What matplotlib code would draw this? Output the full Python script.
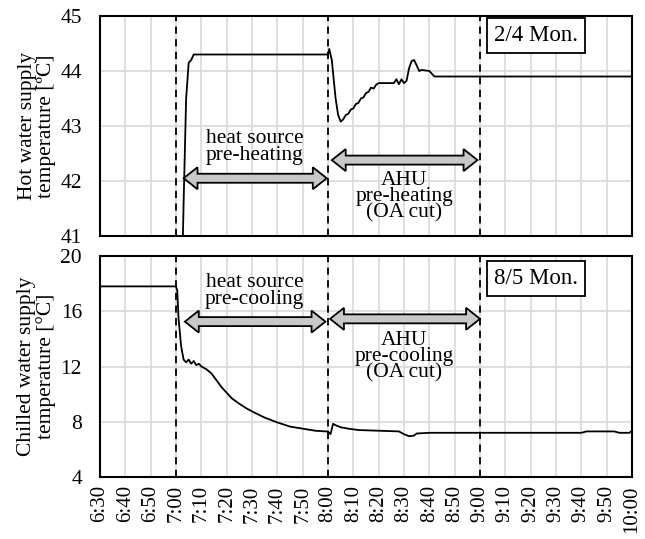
import numpy as np
import matplotlib
matplotlib.use('Agg')
import matplotlib.pyplot as plt
from matplotlib.patches import Polygon

plt.rcParams['font.family'] = ['Liberation Serif', 'DejaVu Serif']

# hot water supply temperature, 2/4 Mon.
hot_t = ['7:02.5', '7:03', '7:04', '7:05', '7:06', '7:07', '7:59', '8:00', '8:00.5', '8:01.5',
         '8:03', '8:04', '8:05', '8:06', '8:07', '8:08', '8:09', '8:10', '8:11', '8:12',
         '8:13', '8:14', '8:15', '8:16', '8:17', '8:18', '8:19', '8:20', '8:26', '8:27',
         '8:28', '8:29', '8:30', '8:31', '8:32', '8:33', '8:34', '8:35', '8:36', '8:37',
         '8:40', '8:41', '8:42', '10:00']
hot_v = [40.5, 41.6, 43.5, 44.15, 44.2, 44.3, 44.3, 44.3, 44.4, 44.2,
         43.5, 43.2, 43.08, 43.12, 43.2, 43.22, 43.3, 43.32, 43.4, 43.42,
         43.5, 43.52, 43.6, 43.62, 43.7, 43.68, 43.75, 43.78, 43.78, 43.85,
         43.76, 43.85, 43.78, 43.82, 44.05, 44.18, 44.2, 44.1, 44.0, 44.02,
         44.0, 43.95, 43.9, 43.9]

# chilled water supply temperature, 8/5 Mon.
cold_t = ['6:30', '7:00', '7:00.5', '7:01', '7:02', '7:03', '7:04', '7:05', '7:06', '7:07',
          '7:08', '7:09', '7:10', '7:11', '7:12', '7:14', '7:16', '7:18', '7:20', '7:22',
          '7:25', '7:28', '7:30', '7:35', '7:40', '7:45', '7:50', '7:55', '7:59', '8:00',
          '8:01', '8:02', '8:03', '8:05', '8:08', '8:12', '8:20', '8:28', '8:30', '8:32',
          '8:34', '8:35', '8:40', '9:40', '9:42', '9:53', '9:55', '9:59', '10:00']
cold_v = [17.8, 17.8, 17.5, 15.5, 13.5, 12.5, 12.3, 12.5, 12.2, 12.4,
          12.1, 12.2, 12.0, 11.9, 11.8, 11.5, 11.0, 10.5, 10.1, 9.7,
          9.3, 8.95, 8.75, 8.3, 7.95, 7.65, 7.5, 7.35, 7.3, 7.3,
          7.1, 7.85, 7.75, 7.6, 7.5, 7.4, 7.35, 7.3, 7.1, 6.95,
          7.0, 7.15, 7.2, 7.2, 7.3, 7.3, 7.2, 7.2, 7.35]

xticks = ['6:30', '6:40', '6:50', '7:00', '7:10', '7:20', '7:30', '7:40', '7:50', '8:00', '8:10',
          '8:20', '8:30', '8:40', '8:50', '9:00', '9:10', '9:20', '9:30', '9:40', '9:50', '10:00']
phase_lines = ['7:00', '8:00', '9:00']


def mins(s):
    h, m = s.split(':')
    return int(h) * 60 + float(m)


def darrow(ax, x0, x1, y, ax_h_px, shaft=4.5, head=11, hl=5.5):
    # double block arrow; half-heights given in pixels, converted to data units
    lo, hi = ax.get_ylim()
    k = (hi - lo) / ax_h_px
    s, h = shaft * k, head * k
    pts = [(x0, y), (x0 + hl, y + h), (x0 + hl, y + s), (x1 - hl, y + s), (x1 - hl, y + h),
           (x1, y), (x1 - hl, y - h), (x1 - hl, y - s), (x0 + hl, y - s), (x0 + hl, y - h)]
    ax.add_patch(Polygon(pts, closed=True, fc='#c8c8c8', ec='black', lw=1.3, zorder=4))


fig = plt.figure(figsize=(6.45, 5.39), dpi=100)
ax1 = fig.add_axes([100 / 645, 1 - 236 / 539, 532 / 645, 220 / 539])
ax2 = fig.add_axes([100 / 645, 1 - 477 / 539, 532 / 645, 221 / 539])

xt = [mins(s) for s in xticks]
for ax, ylim, yt in [(ax1, (41, 45), [41, 42, 43, 44, 45]), (ax2, (4, 20), [4, 8, 12, 16, 20])]:
    ax.set_xlim(xt[0], xt[-1])
    ax.set_ylim(*ylim)
    ax.set_xticks(xt)
    ax.set_yticks(yt)
    ax.grid(True, color='#d9d9d9', lw=1.2)
    ax.set_axisbelow(True)
    ax.tick_params(length=0, labelsize=15.5, pad=13)
    for sp in ax.spines.values():
        sp.set_linewidth(1.5)
    for p in phase_lines:
        ax.axvline(mins(p), color='black', ls=(0, (4, 3)), lw=1.3, zorder=3)

ax1.set_xticklabels([])
ax2.set_xticklabels(xticks, rotation=90, fontsize=15)
ax2.tick_params(axis='x', pad=6)

ax1.plot([mins(s) for s in hot_t], hot_v, color='black', lw=1.3, zorder=5)
ax2.plot([mins(s) for s in cold_t], cold_v, color='black', lw=1.3, zorder=5)

ax1.set_ylabel('Hot water supply\ntemperature [ºC]', fontsize=15.5, linespacing=1.05, labelpad=3)
ax2.set_ylabel('Chilled water supply\ntemperature [°C]', fontsize=15.5, linespacing=1.05, labelpad=3)

# phase arrows and labels
darrow(ax1, mins('7:03'), mins('7:59.5'), 42.05, 220)
darrow(ax1, mins('8:01.5'), mins('8:59'), 42.38, 220)
ax1.text(mins('7:31'), 42.62, 'heat source\npre-heating', ha='center', va='center', fontsize=15.5, linespacing=0.85)
ax1.text(mins('8:30'), 41.72, 'AHU\npre-heating\n(OA cut)', ha='center', va='center', fontsize=15.5, linespacing=0.8)

darrow(ax2, mins('7:03.5'), mins('7:59'), 15.25, 221)
darrow(ax2, mins('8:00.8'), mins('9:00'), 15.45, 221)
ax2.text(mins('7:31'), 17.45, 'heat source\npre-cooling', ha='center', va='center', fontsize=15.5, linespacing=0.85)
ax2.text(mins('8:30'), 12.7, 'AHU\npre-cooling\n(OA cut)', ha='center', va='center', fontsize=15.5, linespacing=0.8)

box = dict(boxstyle='square,pad=0.3', fc='white', ec='black', lw=1.3)
ax1.text(mins('9:22'), 44.65, '2/4 Mon.', ha='center', va='center', fontsize=16.5, bbox=box, zorder=6)
ax2.text(mins('9:22'), 18.35, '8/5 Mon.', ha='center', va='center', fontsize=16.5, bbox=box, zorder=6)

fig.savefig('out.png', dpi=100)
